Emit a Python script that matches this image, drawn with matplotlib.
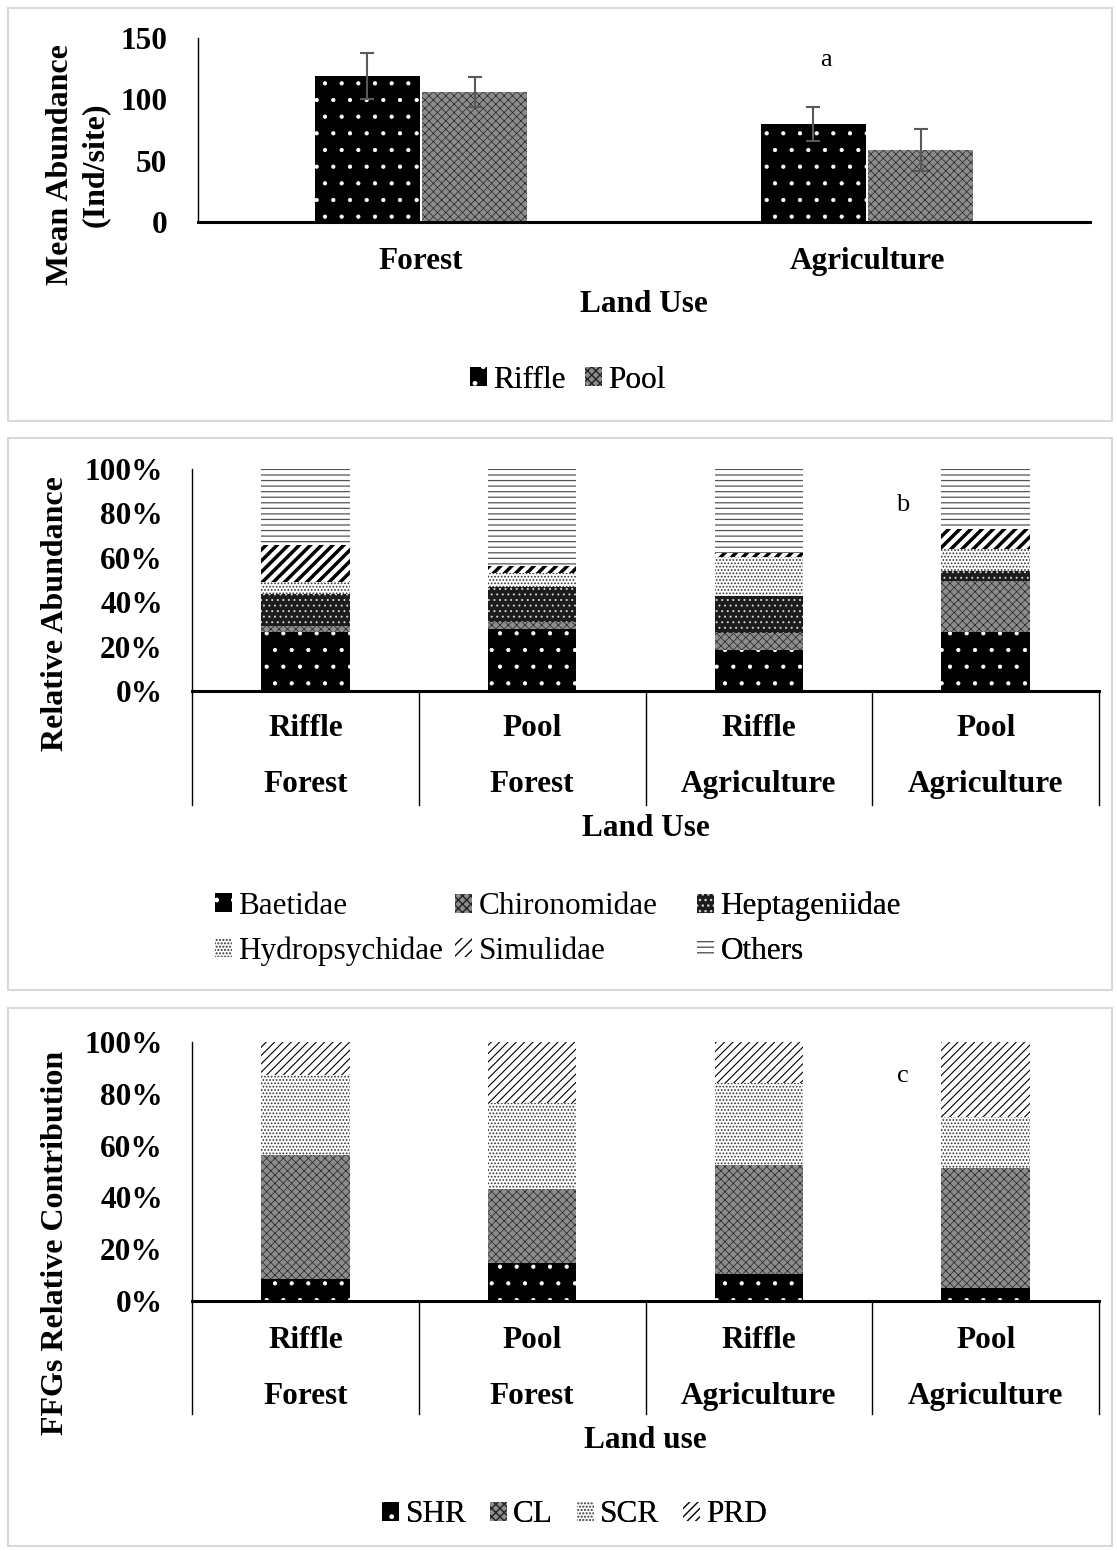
import matplotlib
matplotlib.use("Agg")
import matplotlib.pyplot as plt
import matplotlib.transforms as mtransforms
from matplotlib.patches import Rectangle, Patch
import numpy as np

plt.rcParams['font.family'] = ['Liberation Serif', 'DejaVu Serif']
plt.rcParams['hatch.linewidth'] = 1.0

# ---- data ----
land_use = ['Forest', 'Agriculture']
habitats = ['Riffle', 'Pool']
mean_abund = {'Riffle': [119, 80], 'Pool': [106, 58.5]}
abund_err = {'Riffle': [18.5, 14], 'Pool': [12, 17]}

groups = ['Riffle', 'Pool', 'Riffle', 'Pool']
group_land = ['Forest', 'Forest', 'Agriculture', 'Agriculture']

taxa = ['Baetidae', 'Chironomidae', 'Heptageniidae', 'Hydropsychidae', 'Simulidae', 'Others']
taxa_pct = [
    [26.4, 27.9, 18.3, 26.7],
    [3.0, 3.0, 8.0, 23.0],
    [14.2, 15.9, 16.5, 4.4],
    [5.6, 6.5, 17.7, 9.7],
    [16.6, 3.0, 1.8, 9.0],
    [34.2, 43.7, 37.7, 27.2],
]

ffgs = ['SHR', 'CL', 'SCR', 'PRD']
ffg_pct = [
    [8.6, 14.7, 10.3, 4.9],
    [47.6, 28.7, 42.3, 46.6],
    [30.9, 33.0, 31.5, 19.7],
    [12.9, 23.6, 15.9, 28.8],
]

# ---- styles (face, hatch colour, hatch, hatch lw) ----
DOTS_BLACK = ('black', 'white', '.', 0.6)
GRAY_MESH = ('#8c8c8c', '#222222', 'xxxx', 0.5)
HEPT = ('#1c1c1c', '#d0d0d0', '...', 0.7)
FINE_DOTS = ('white', '#333333', '.....', 0.8)
BOLD_DIAG = ('white', 'black', '///', 2.5)
OTHERS = ('white', '#555555', '---', 0.9)
THIN_DIAG = ('white', 'black', '////', 0.8)

habitat_style = [DOTS_BLACK, GRAY_MESH]
taxa_style = [DOTS_BLACK, GRAY_MESH, HEPT, FINE_DOTS, BOLD_DIAG, OTHERS]
ffg_style = [DOTS_BLACK, GRAY_MESH, FINE_DOTS, THIN_DIAG]

W, H = 1117, 1551
fig = plt.figure(figsize=(W / 100, H / 100), dpi=100)
FS = 22.5
LFS = 22.5


def px_axes(left, top, right, bottom):
    return fig.add_axes([left / W, 1 - bottom / H, (right - left) / W, (bottom - top) / H])


def fpt(xp, yp):
    return (xp / W, 1 - yp / H)


def box(top, bottom):
    fig.add_artist(Rectangle((8 / W, 1 - bottom / H), 1104 / W, (bottom - top) / H,
                             transform=fig.transFigure, fill=False,
                             edgecolor='#d9d9d9', linewidth=1.5))


def styled(bars, st):
    fc, hc, hatch, hlw = st
    for b in bars:
        b.set_facecolor(fc)
        b.set_edgecolor(hc)
        b.set_hatch(hatch)
        b.set_linewidth(0)
        if hasattr(b, 'set_hatch_linewidth'):
            b.set_hatch_linewidth(hlw)


def legend_handle(st):
    fc, hc, hatch, hlw = st
    p = Patch(facecolor=fc, edgecolor=hc, hatch=hatch, linewidth=0)
    if hasattr(p, 'set_hatch_linewidth'):
        p.set_hatch_linewidth(hlw)
    return p


def add_legend(ax, handles, labels, xp, yp, ncol, colsp):
    leg = ax.legend(handles=handles, labels=labels, loc='center left',
                    bbox_to_anchor=fpt(xp, yp), bbox_transform=fig.transFigure,
                    ncol=ncol, frameon=False, fontsize=LFS, handlelength=0.55,
                    handleheight=0.55, handletextpad=0.2, columnspacing=colsp,
                    labelspacing=0.5, borderpad=0, borderaxespad=0)
    ax.add_artist(leg)
    return leg


def base_axes(ax):
    for s in ['top', 'right']:
        ax.spines[s].set_visible(False)
    ax.spines['left'].set_linewidth(1.0)
    ax.spines['bottom'].set_linewidth(2.2)
    ax.tick_params(length=0, labelsize=FS)
    for lab in ax.get_yticklabels():
        lab.set_fontweight('bold')


# ---- panel a ----
box(8, 421)
ax = px_axes(198, 38, 1090, 222)
x = np.arange(len(land_use))
bw = 0.236
for i, hab in enumerate(habitats):
    off = (i - 0.5) * (bw + 0.004)
    bars = ax.bar(x + off, mean_abund[hab], bw, label=hab)
    styled(bars, habitat_style[i])
    ax.errorbar(x + off, mean_abund[hab], yerr=abund_err[hab], fmt='none',
                ecolor='#595959', elinewidth=1.5, capsize=5, capthick=1.5)
ax.set_xlim(-0.5, 1.5)
ax.set_ylim(0, 150)
ax.set_yticks([0, 50, 100, 150])
ax.set_xticks(x)
ax.set_xticklabels(land_use, fontweight='bold')
base_axes(ax)
ax.tick_params(axis='y', pad=22)
ax.tick_params(axis='x', pad=18)
ax.set_ylabel('Mean Abundance\n(Ind/site)', fontsize=23, fontweight='bold', linespacing=1.25)
ax.yaxis.set_label_coords(-0.099, 0.31)
ax.text(0.5, -0.45, 'Land Use', transform=ax.transAxes, ha='center', va='center',
        fontsize=FS, fontweight='bold')
ax.text(0.908, 132, 'a', ha='center', va='center', fontsize=19)
add_legend(ax, [legend_handle(s) for s in habitat_style], habitats, 470, 380, 2, 0.6)


def stacked_panel(top, bottom, box_top, box_bot, names, values, styles, ylabel,
                  xlabel, letter, letter_y, sep_y, row1_y, row2_y, xlab_y, label_y):
    box(box_top, box_bot)
    ax = px_axes(192, top, 1099, bottom)
    xs = np.arange(len(groups))
    bottoms = np.zeros(len(groups))
    handles = []
    for name, vals, st in zip(names, values, styles):
        vals = np.array(vals) / 100.0
        bars = ax.bar(xs, vals, 0.39, bottom=bottoms, label=name)
        styled(bars, st)
        bottoms += vals
        handles.append(legend_handle(st))
    ax.set_xlim(-0.5, len(groups) - 0.5)
    ax.set_ylim(0, 1)
    ax.set_yticks(np.linspace(0, 1, 6))
    ax.set_yticklabels(['%d%%' % v for v in range(0, 101, 20)])
    ax.set_xticks([])
    base_axes(ax)
    ax.tick_params(axis='y', pad=21)
    trans = mtransforms.blended_transform_factory(ax.transData, ax.transAxes)
    for sx in np.arange(-0.5, len(groups), 1.0):
        ax.plot([sx, sx], [0, sep_y], color='black', lw=1.0, transform=trans, clip_on=False)
    for gx, g, lu in zip(xs, groups, group_land):
        ax.text(gx, row1_y, g, transform=trans, ha='center', va='center',
                fontsize=FS, fontweight='bold')
        ax.text(gx, row2_y, lu, transform=trans, ha='center', va='center',
                fontsize=FS, fontweight='bold')
    ax.text(0.5, xlab_y, xlabel, transform=ax.transAxes, ha='center', va='center',
            fontsize=FS, fontweight='bold')
    ax.set_ylabel(ylabel, fontsize=23, fontweight='bold')
    ax.yaxis.set_label_coords(-0.134, label_y)
    ax.text(2.636, letter_y, letter, ha='center', va='center', fontsize=19)
    return ax, handles


# ---- panel b ----
ax_b, hb = stacked_panel(469, 691, 438, 990, taxa, taxa_pct, taxa_style,
                         'Relative Abundance', 'Land Use', 'b', 0.84, -0.514,
                         -0.171, -0.423, -0.62, 0.35)
for c, xp in enumerate([215, 455, 697]):
    add_legend(ax_b, [hb[c], hb[c + 3]], [taxa[c], taxa[c + 3]], xp, 929, 1, 0.5)

# ---- panel c ----
ax_c, hc = stacked_panel(1042, 1301, 1008, 1546, ffgs, ffg_pct, ffg_style,
                         'FFGs Relative Contribution', 'Land use', 'c', 0.87, -0.438,
                         -0.151, -0.367, -0.537, 0.224)
add_legend(ax_c, hc, ffgs, 382, 1515, 4, 0.75)

fig.savefig('out.png', dpi=100)
